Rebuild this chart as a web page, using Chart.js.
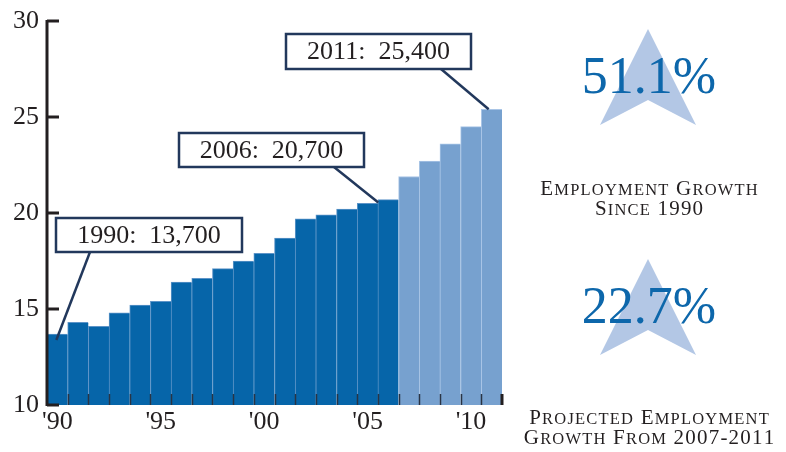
<!DOCTYPE html>
<html>
<head>
<meta charset="utf-8">
<script src="https://cdn.jsdelivr.net/npm/chart.js@4"></script>
<style>
    html, body { margin: 0; padding: 0; background: #fff; }
    canvas { display: block; }
</style>
</head>
<body>
<canvas id="chart" width="786" height="452"></canvas>
<script>
(function() {
    if (!Chart) {
        return;
    }

    // employment, thousands of jobs
    const years = [1990, 1991, 1992, 1993, 1994, 1995, 1996, 1997, 1998, 1999, 2000,
                   2001, 2002, 2003, 2004, 2005, 2006, 2007, 2008, 2009, 2010, 2011]
    const employment = [13.7, 14.3, 14.1, 14.8, 15.2, 15.4, 16.4, 16.6, 17.1, 17.5, 17.9,
                        18.7, 19.7, 19.9, 20.2, 20.5, 20.7, 21.9, 22.7, 23.6, 24.5, 25.4]
    const lastActualYear = 2006
    const yTicks = [10, 15, 20, 25, 30]
    const xTickYears = [1990, 1995, 2000, 2005, 2010]

    const serif = '"Liberation Serif", "Times New Roman", serif'
    const ink = '#231f20'
    const navy = '#22385c'
    const actualBlue = '#0665a9'
    const projectedBlue = '#77a1cf'

    const idx = year => years.indexOf(year)
    const fmt = v => Math.round(v * 1000).toLocaleString('en-US')
    const pct = (a, b) => ((b / a - 1) * 100).toFixed(1) + '%'

    const callouts = [
        { year: 1990, box: { x: 56, y: 218, w: 186, h: 34 }, from: { x: 90, y: 252 }, tip: { dx: -1, dy: 6 } },
        { year: 2006, box: { x: 179, y: 133, w: 185, h: 34 }, from: { x: 334, y: 167 }, tip: { dx: -10, dy: 3 } },
        { year: 2011, box: { x: 286, y: 34, w: 185, h: 35 }, from: { x: 441, y: 69 }, tip: { dx: -3, dy: 0 } }
    ]

    // axis line, inward ticks and the little marks along the bottom
    const axisMarks = {
        id: 'axisMarks',
        afterDatasetsDraw(chart) {
            const { ctx, chartArea, scales: { x, y } } = chart
            ctx.save()
            ctx.strokeStyle = '#2a3444'
            ctx.lineWidth = 1.5
            for (let i = 0; i < years.length - 1; i++) {
                const bx = Math.round((x.getPixelForValue(i) + x.getPixelForValue(i + 1)) / 2) + 0.5
                ctx.beginPath()
                ctx.moveTo(bx, chartArea.bottom)
                ctx.lineTo(bx, chartArea.bottom - 11)
                ctx.stroke()
            }
            ctx.strokeStyle = ink
            ctx.lineWidth = 3
            ctx.beginPath()
            ctx.moveTo(chartArea.right, chartArea.bottom)
            ctx.lineTo(chartArea.right, chartArea.bottom - 11)
            ctx.stroke()

            ctx.beginPath()
            ctx.moveTo(chartArea.left, chartArea.top - 1)
            ctx.lineTo(chartArea.left, chartArea.bottom + 1)
            ctx.stroke()
            yTicks.forEach(t => {
                const ty = y.getPixelForValue(t)
                ctx.beginPath()
                ctx.moveTo(chartArea.left, ty)
                ctx.lineTo(chartArea.left + 12, ty)
                ctx.stroke()
            })
            ctx.restore()
        }
    }

    const calloutBoxes = {
        id: 'calloutBoxes',
        afterDatasetsDraw(chart) {
            const { ctx } = chart
            const bars = chart.getDatasetMeta(0).data
            ctx.save()
            callouts.forEach(c => {
                const i = idx(c.year)
                const bar = bars[i]
                ctx.strokeStyle = navy
                ctx.lineWidth = 2.5
                ctx.beginPath()
                ctx.moveTo(c.from.x, c.from.y)
                ctx.lineTo(bar.x + c.tip.dx, bar.y + c.tip.dy)
                ctx.stroke()

                ctx.fillStyle = '#fff'
                ctx.fillRect(c.box.x, c.box.y, c.box.w, c.box.h)
                ctx.strokeRect(c.box.x, c.box.y, c.box.w, c.box.h)

                ctx.fillStyle = ink
                ctx.font = '26px ' + serif
                ctx.textAlign = 'center'
                ctx.textBaseline = 'middle'
                ctx.fillText(c.year + ':  ' + fmt(employment[i]), c.box.x + c.box.w / 2, c.box.y + c.box.h / 2 + 1)
            })
            ctx.restore()
        }
    }

    // draws a caption in small caps, letter by letter
    function smallCaps(ctx, text, cx, baseline, big, small, spacing) {
        const parts = []
        let total = 0
        for (let k = 0; k < text.length; k++) {
            const ch = text[k]
            const isLetter = /[a-z]/i.test(ch)
            const wordStart = k === 0 || text[k - 1] === ' '
            const size = (!isLetter || (wordStart && ch === ch.toUpperCase())) ? big : small
            ctx.font = size + 'px ' + serif
            const w = ctx.measureText(ch.toUpperCase()).width
            parts.push({ ch: ch.toUpperCase(), size, w })
            total += w + spacing
        }
        total -= spacing
        let px = cx - total / 2
        ctx.textAlign = 'left'
        ctx.textBaseline = 'alphabetic'
        parts.forEach(p => {
            ctx.font = p.size + 'px ' + serif
            ctx.fillText(p.ch, px, baseline)
            px += p.w + spacing
        })
    }

    function arrow(ctx, cx, top) {
        ctx.fillStyle = '#b3c7e5'
        ctx.beginPath()
        ctx.moveTo(cx, top)
        ctx.lineTo(cx + 48, top + 96)
        ctx.lineTo(cx, top + 71)
        ctx.lineTo(cx - 48, top + 96)
        ctx.closePath()
        ctx.fill()
    }

    const sidePanel = {
        id: 'sidePanel',
        afterDraw(chart) {
            const { ctx } = chart
            const start = employment[0]
            const actual = employment[idx(lastActualYear)]
            const end = employment[employment.length - 1]
            const panels = [
                { top: 29, value: pct(start, actual), lines: ['Employment Growth', 'Since ' + years[0]], cap: 195 },
                { top: 259, value: pct(actual, end), lines: ['Projected Employment', 'Growth From ' + (lastActualYear + 1) + '-' + years[years.length - 1]], cap: 424 }
            ]
            ctx.save()
            panels.forEach(p => {
                arrow(ctx, 648, p.top)
                ctx.fillStyle = '#0d67ab'
                ctx.font = '52px ' + serif
                ctx.textAlign = 'center'
                ctx.textBaseline = 'alphabetic'
                ctx.fillText(p.value, 649, p.top + 64)

                ctx.fillStyle = ink
                smallCaps(ctx, p.lines[0], 649, p.cap, 21, 16.5, 1.2)
                smallCaps(ctx, p.lines[1], 649, p.cap + 20, 21, 16.5, 1.2)
            })
            ctx.restore()
        }
    }

    const data = {
        labels: years,
        datasets: [{
            data: employment,
            backgroundColor: years.map(yr => yr <= lastActualYear ? actualBlue : projectedBlue),
            borderColor: years.map(yr => yr <= lastActualYear ? '#5d94c8' : '#a9c5e6'),
            borderWidth: { top: 1, left: 1, right: 0, bottom: 0 },
            borderSkipped: false,
            barPercentage: 1,
            categoryPercentage: 1
        }]
    }

    const options = {
        responsive: false,
        animation: false,
        devicePixelRatio: 1,
        layout: {
            padding: { top: 19, right: 284, bottom: 0, left: 0 }
        },
        plugins: {
            legend: { display: false },
            tooltip: { enabled: false }
        },
        scales: {
            x: {
                grid: { display: false, drawTicks: false },
                border: { display: false },
                afterFit: scale => { scale.height = 47 },
                ticks: {
                    autoSkip: false,
                    maxRotation: 0,
                    padding: 2,
                    color: ink,
                    font: { family: serif, size: 26 },
                    callback: function(value) {
                        const yr = years[value]
                        return xTickYears.includes(yr) ? "'" + String(yr).slice(2) : ''
                    }
                }
            },
            y: {
                min: 10,
                max: 30,
                grid: { display: false, drawTicks: false },
                border: { display: false },
                afterFit: scale => { scale.width = 47 },
                ticks: {
                    stepSize: 5,
                    padding: 8,
                    color: ink,
                    font: { family: serif, size: 26, lineHeight: 1 }
                }
            }
        }
    }

    new Chart('chart', { type: 'bar', data, options, plugins: [axisMarks, calloutBoxes, sidePanel] })
})();
</script>
</body>
</html>
